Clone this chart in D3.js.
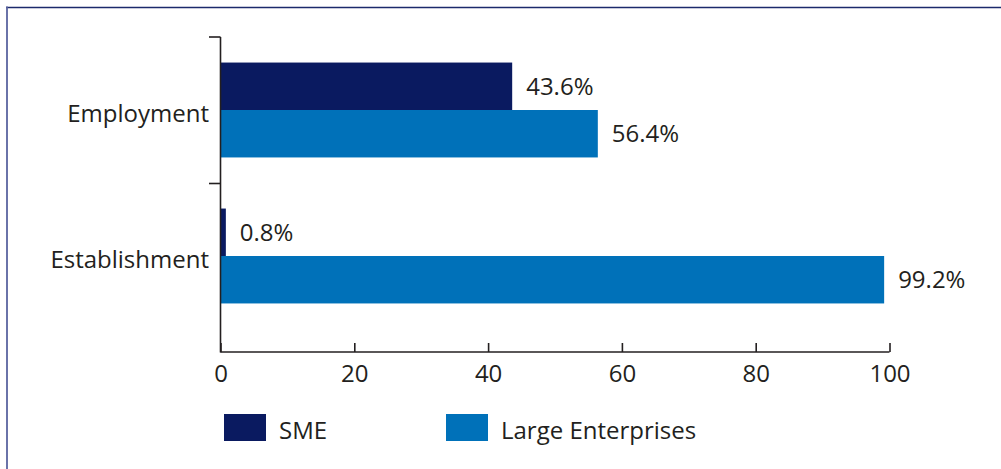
<!DOCTYPE html>
<html><head><meta charset="utf-8">
<script src="https://cdn.jsdelivr.net/npm/d3@7/dist/d3.min.js"></script>
<style>body{margin:0;background:#fff}svg{display:block}text{font-family:"Open Sans",sans-serif;fill:#231f20}</style>
</head><body>
<script>
const categories = ["Employment", "Establishment"];
const seriesNames = ["SME", "Large Enterprises"];
const smeValues = [43.6, 0.8];
const largeValues = [56.4, 99.2];
const xTicks = [0, 20, 40, 60, 80, 100];
const colors = ["#0a1a60", "#0071b9"];

const W = 1001, H = 469, FS = 24;
const svg = d3.select("body").append("svg").attr("width", W).attr("height", H);

// frame
svg.append("line").attr("x1", 6).attr("x2", W).attr("y1", 7.5).attr("y2", 7.5).attr("stroke", "#1c2a6c").attr("stroke-width", 1.6);
svg.append("line").attr("x1", 7).attr("x2", 7).attr("y1", 6.5).attr("y2", H).attr("stroke", "#5a64a0").attr("stroke-width", 1.8);

const x = d3.scaleLinear().domain([0, 100]).range([220.5, 889.5]);
const y = d3.scaleBand().domain(categories).range([37, 329]).paddingInner(0.35).paddingOuter(0.175);
const sub = d3.scaleBand().domain(seriesNames).range([0, y.bandwidth()]);

const data = categories.map((c, i) => ({cat: c, vals: [smeValues[i], largeValues[i]]}));

const g = svg.append("g");
data.forEach(d => {
  d.vals.forEach((v, j) => {
    g.append("rect").attr("x", x(0)).attr("y", y(d.cat) + sub(seriesNames[j]))
      .attr("width", x(v) - x(0)).attr("height", sub.bandwidth()).attr("fill", colors[j]);
    g.append("text").attr("x", x(v) + 14).attr("y", y(d.cat) + sub(seriesNames[j]) + sub.bandwidth() / 2 + 8.5)
      .attr("font-size", FS).text(d3.format(".1f")(v) + "%");
  });
});

// y axis
const axisColor = "#231f20";
svg.append("line").attr("x1", x(0)).attr("x2", x(0)).attr("y1", 37).attr("y2", 352.5).attr("stroke", axisColor).attr("stroke-width", 1.6);
const yTickPos = [37, 183.5];
yTickPos.forEach(p => svg.append("line").attr("x1", 209).attr("x2", x(0)).attr("y1", p).attr("y2", p).attr("stroke", axisColor).attr("stroke-width", 1.6));
categories.forEach(c => {
  svg.append("text").attr("x", 209).attr("y", y(c) + y.bandwidth() / 2 + 12).attr("text-anchor", "end")
    .attr("font-size", FS).text(c);
});

// x axis
const xa = svg.append("g").attr("transform", "translate(0,352)")
  .call(d3.axisBottom(x).tickValues(xTicks).tickSize(-9).tickPadding(16).tickFormat(d3.format("d")));
xa.select(".domain").attr("stroke", axisColor).attr("stroke-width", 1.6).attr("d", `M${x(0)},0H${x(100)}`);
xa.selectAll(".tick line").attr("stroke", axisColor).attr("stroke-width", 1.6);
xa.selectAll(".tick text").attr("font-size", FS).attr("font-family", "'Open Sans',sans-serif").attr("fill", axisColor).attr("dy", "0.71em").attr("y", 13);

// legend
const legX = [224, 446];
seriesNames.forEach((s, j) => {
  svg.append("rect").attr("x", legX[j]).attr("y", 414).attr("width", 42).attr("height", 27).attr("fill", colors[j]);
  svg.append("text").attr("x", legX[j] + 55).attr("y", 439).attr("font-size", FS).text(s);
});
</script>
</body></html>
